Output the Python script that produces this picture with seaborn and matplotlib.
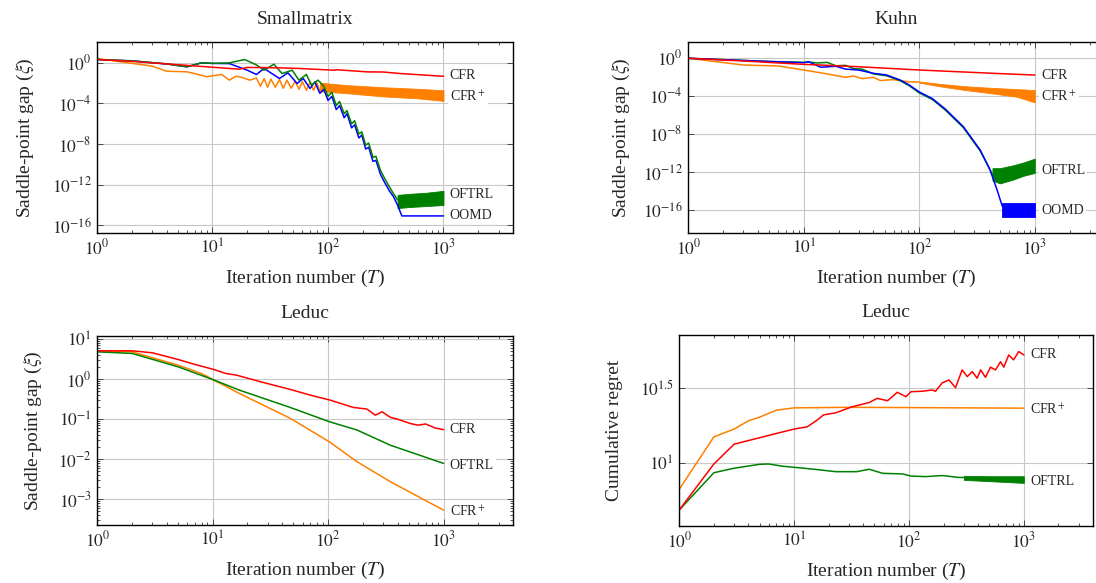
import numpy as np
import matplotlib
matplotlib.use('Agg')
import matplotlib.pyplot as plt
import matplotlib.ticker as mticker
import seaborn as sns

RED = '#ff0000'
ORANGE = '#ff8000'
GREEN = '#008000'
BLUE = '#0000ff'

# ---------------- Smallmatrix (saddle-point gap) ----------------
sm_cfr_T = [1, 2, 4, 8, 12, 17, 20, 25, 40, 57, 112, 120, 218, 300, 425, 1000]
sm_cfr = [2.14, 1.41, 0.79, 0.45, 0.32, 0.24, 0.355, 0.35, 0.32, 0.28, 0.19, 0.21, 0.13, 0.126, 0.089, 0.048]

sm_cfrp_T = [1, 3, 4, 6, 7, 9, 10, 12, 14, 16, 18, 21, 24, 26, 28, 30, 32, 35, 38, 41,
             44, 48, 52, 56, 60, 65, 70, 75, 80, 85]
sm_cfrp = [2.69, 0.479, 0.151, 0.132, 0.0891, 0.0427, 0.0537, 0.0724, 0.02, 0.049,
           0.0363, 0.02, 0.0316, 0.005, 0.0282, 0.004, 0.0251, 0.004, 0.0224, 0.00316,
           0.02, 0.00316, 0.0158, 0.00251, 0.0141, 0.002, 0.0126, 0.002, 0.0112, 0.00158]
sm_cfrp_band_T = [85, 150, 300, 600, 1000]
sm_cfrp_hi = [0.0112, 0.0063, 0.004, 0.0028, 0.002]
sm_cfrp_lo = [1.6e-3, 1.0e-3, 5.0e-4, 3.2e-4, 1.8e-4]

sm_oftrl_T = [1, 2, 4, 6, 8, 10, 14, 19, 24, 28, 34, 40, 49, 56, 65, 72, 82, 92, 100,
              108, 118, 126, 138, 146, 160, 170, 185, 196, 212, 225, 245, 260, 285,
              310, 340, 370, 400]
sm_oftrl = [2.14, 1.58, 0.79, 0.41, 1.0, 0.89, 1.0, 2.14, 0.63, 0.19, 0.74, 0.089,
            0.19, 0.02, 0.072, 0.0065, 0.02, 0.005, 5.0e-4, 1.26e-3, 6.3e-5, 1.6e-4,
            1.0e-5, 2.0e-5, 1.0e-6, 2.0e-6, 1.0e-7, 1.6e-7, 7.9e-9, 1.26e-8, 5.0e-10,
            6.3e-10, 2.5e-11, 4.0e-12, 6.3e-13, 1.26e-13, 3.2e-14]
sm_oftrl_band_T = [400, 500, 700, 1000]
sm_oftrl_hi = [1.0e-13, 1.26e-13, 1.6e-13, 2.5e-13]
sm_oftrl_lo = [5.0e-15, 6.3e-15, 7.9e-15, 1.0e-14]

sm_oomd_T = [1, 2, 4, 6, 8, 10, 14, 20, 24, 28, 38, 45, 54, 61, 70, 77, 85, 92, 100,
             108, 118, 126, 138, 146, 160, 170, 185, 196, 212, 225, 245, 260, 285,
             310, 340, 370, 400, 436, 1000]
sm_oomd = [2.14, 1.58, 0.79, 0.41, 1.0, 0.89, 0.85, 0.19, 0.072, 0.28, 0.029, 0.105,
           0.0093, 0.029, 0.003, 0.0135, 0.001, 0.0025, 2.0e-4, 5.0e-4, 2.5e-5, 6.3e-5,
           4.0e-6, 1.0e-5, 4.0e-7, 7.9e-7, 4.0e-8, 7.9e-8, 3.2e-9, 5.0e-9, 2.0e-10,
           2.5e-10, 1.0e-11, 1.6e-12, 2.5e-13, 6.3e-14, 1.0e-14, 8.5e-16, 8.5e-16]

sm_labels = ['CFR', 'CFR$^+$', 'OFTRL', 'OOMD']
sm_label_y = [0.06, 4.6e-4, 1.0e-13, 8.5e-16]

# ---------------- Kuhn (saddle-point gap) ----------------
ku_cfr_T = [1, 3, 10, 16, 30, 100, 200, 400, 1000]
ku_cfr = [0.87, 0.45, 0.2, 0.158, 0.112, 0.051, 0.035, 0.024, 0.015]

ku_cfrp_T = [1, 3, 6, 10, 16, 23, 27, 32, 40, 46, 59, 81, 100]
ku_cfrp = [0.87, 0.17, 0.135, 0.051, 0.0195, 0.0087, 0.012, 0.0063, 0.0087, 0.004,
           0.005, 0.0029, 0.0028]
ku_cfrp_band_T = [100, 150, 250, 400, 700, 1000]
ku_cfrp_hi = [3.2e-3, 1.8e-3, 1.0e-3, 7.1e-4, 5.0e-4, 4.0e-4]
ku_cfrp_lo = [2.4e-3, 1.0e-3, 4.0e-4, 2.0e-4, 7.9e-5, 2.0e-5]

ku_oftrl_T = [1, 5, 10, 11, 13, 16, 19, 23, 27, 32, 40, 52, 68, 82, 100, 130, 168,
              241, 337, 400, 430]
ku_oftrl = [0.87, 0.4, 0.32, 0.355, 0.28, 0.32, 0.141, 0.158, 0.071, 0.063, 0.02,
            0.0126, 0.004, 0.00112, 2.0e-4, 4.0e-5, 3.2e-6, 4.5e-8, 1.6e-10, 3.2e-12,
            5.0e-13]
ku_oftrl_band_T = [430, 500, 650, 800, 1000]
ku_oftrl_hi = [2.5e-12, 2.5e-12, 5.0e-12, 1.0e-11, 2.5e-11]
ku_oftrl_lo = [1.26e-13, 6.3e-14, 1.6e-13, 4.0e-13, 7.9e-13]

ku_oomd_T = [1, 5, 10, 11, 14, 19, 23, 30, 40, 52, 68, 82, 100, 130, 168, 241, 337,
             410, 472, 523]
ku_oomd = [0.87, 0.4, 0.3, 0.38, 0.1, 0.126, 0.063, 0.05, 0.023, 0.0155, 0.0046,
           0.00135, 2.5e-4, 5.0e-5, 4.0e-6, 5.6e-8, 2.0e-10, 1.6e-12, 1.26e-14, 2.5e-16]
ku_oomd_band_T = [523, 1000]
ku_oomd_hi = [5.0e-16, 5.0e-16]
ku_oomd_lo = [2.0e-17, 2.0e-17]

ku_labels = ['CFR', 'CFR$^+$', 'OFTRL', 'OOMD']
ku_label_y = [0.015, 7.9e-5, 1.6e-12, 1.0e-16]

# ---------------- Leduc (saddle-point gap) ----------------
le_cfr_T = [1, 2, 3, 5, 7, 10, 13, 16, 26, 47, 70, 104, 166, 217, 256, 293, 347, 400,
            516, 600, 700, 850, 1000]
le_cfr = [5.08, 5.08, 4.53, 3.09, 2.32, 1.77, 1.38, 1.26, 0.857, 0.552, 0.399, 0.299,
          0.196, 0.179, 0.126, 0.153, 0.111, 0.1, 0.078, 0.071, 0.076, 0.06, 0.055]
le_oftrl_T = [1, 2, 5, 10, 17, 47, 102, 178, 347, 1000]
le_oftrl = [4.79, 4.37, 2.03, 0.977, 0.532, 0.196, 0.087, 0.0537, 0.0224, 0.0079]
le_cfrp_T = [1, 2, 5, 8, 10, 17, 47, 102, 178, 347, 1000]
le_cfrp = [5.08, 4.79, 2.23, 1.38, 0.977, 0.44, 0.105, 0.0275, 0.0087, 0.00275, 0.00054]

le_labels = ['CFR', 'OFTRL', 'CFR$^+$']
le_label_y = [0.054, 0.0072, 4.9e-4]

# ---------------- Leduc (cumulative regret) ----------------
rg_cfr_T = [1, 2, 3, 7, 10, 13, 16, 18, 23, 32, 45, 53, 65, 79, 94, 104, 131, 159,
            170, 195, 223, 254, 290, 321, 355, 392, 420, 463, 512, 566, 626, 668, 738,
            813, 902, 1000]
rg_cfr = [4.89, 9.89, 13.4, 15.8, 16.9, 17.5, 19.5, 21.0, 21.7, 23.8, 25.4, 27.1,
          26.1, 29.7, 27.8, 30.0, 30.2, 30.8, 30.2, 34.4, 35.9, 31.9, 41.9, 37.8, 40.8,
          36.9, 41.9, 37.4, 43.7, 41.9, 47.5, 43.7, 52.7, 48.9, 55.5, 52.7]
rg_cfrp_T = [1, 2, 3, 4, 5, 7, 10, 30, 100, 300, 1000]
rg_cfrp = [6.71, 15.0, 16.9, 19.2, 20.3, 22.6, 23.4, 23.6, 23.5, 23.4, 23.3]
rg_oftrl_T = [1, 2, 3, 5, 6, 8, 10, 15, 23, 35, 45, 59, 88, 104, 140, 195, 272, 300]
rg_oftrl = [4.89, 8.65, 9.27, 9.84, 9.89, 9.55, 9.4, 9.12, 8.79, 8.79, 9.12, 8.57,
            8.49, 8.22, 8.15, 8.28, 8.05, 8.04]
rg_oftrl_band_T = [300, 500, 1000]
rg_oftrl_hi = [8.25, 8.2, 8.2]
rg_oftrl_lo = [7.75, 7.6, 7.4]

rg_labels = ['CFR', 'CFR$^+$', 'OFTRL']
rg_label_y = [52.7, 22.6, 7.53]


def draw_line(ax, T, vals, color):
    sns.lineplot(x=T, y=vals, ax=ax, color=color, lw=1.1, estimator=None,
                 sort=False, legend=False)


def draw_band(ax, T, lo, hi, color):
    ax.fill_between(T, lo, hi, color=color, lw=0.6, edgecolor=color)


def add_labels(ax, labels, ys):
    for lab, y in zip(labels, ys):
        ax.annotate(lab, xy=(1000, y), xytext=(4.5, 0), textcoords='offset points',
                    ha='left', va='center', fontsize=10, zorder=5,
                    bbox=dict(facecolor='white', edgecolor='none', pad=1.5))


def setup_axes(ax, ylim, yticks, ylabels, ylabel, title, yminor=False, ylabelpad=13):
    ax.set_xscale('log')
    ax.set_yscale('log')
    ax.set_xlim(1, 4000)
    ax.set_ylim(*ylim)
    ax.xaxis.set_major_locator(mticker.FixedLocator([1, 10, 100, 1000]))
    ax.xaxis.set_major_formatter(mticker.FixedFormatter(
        [r'$10^{0}$', r'$10^{1}$', r'$10^{2}$', r'$10^{3}$']))
    ax.xaxis.set_minor_locator(mticker.LogLocator(base=10, subs=np.arange(2, 10), numticks=20))
    ax.xaxis.set_minor_formatter(mticker.NullFormatter())
    ax.yaxis.set_major_locator(mticker.FixedLocator(yticks))
    ax.yaxis.set_major_formatter(mticker.FixedFormatter(ylabels))
    if yminor:
        ax.yaxis.set_minor_locator(mticker.LogLocator(base=10, subs=np.arange(2, 10), numticks=20))
    else:
        ax.yaxis.set_minor_locator(mticker.NullLocator())
    ax.yaxis.set_minor_formatter(mticker.NullFormatter())
    ax.tick_params(which='both', direction='in', top=True, right=True,
                   labelsize=12.5, width=0.6, color='#333333')
    ax.tick_params(which='major', length=4, pad=4)
    ax.tick_params(which='minor', length=2.3)
    ax.grid(True, which='major', color='#c8c8c8', lw=0.8)
    ax.grid(False, which='minor')
    ax.set_axisbelow(True)
    for s in ax.spines.values():
        s.set_linewidth(1.0)
        s.set_color('black')
    ax.set_xlabel('Iteration number ($T$)', fontsize=14, labelpad=7)
    ax.set_ylabel(ylabel, fontsize=14, labelpad=ylabelpad)
    ax.set_title(title, fontsize=14, pad=13)


def main():
    sns.set_style('ticks')
    plt.rcParams['font.family'] = ['Liberation Serif', 'DejaVu Serif']
    plt.rcParams['mathtext.fontset'] = 'stix'

    fig = plt.figure(figsize=(10.96, 5.83), dpi=100)
    ax_sm = fig.add_axes([0.0885, 0.6009, 0.3796, 0.3266])
    ax_ku = fig.add_axes([0.628, 0.6009, 0.3796, 0.3266])
    ax_le = fig.add_axes([0.0888, 0.0995, 0.3793, 0.3242])
    ax_rg = fig.add_axes([0.6198, 0.0978, 0.3775, 0.3276])

    gap_ticks = [1e0, 1e-4, 1e-8, 1e-12, 1e-16]
    gap_labels = [r'$10^{0}$', r'$10^{-4}$', r'$10^{-8}$', r'$10^{-12}$', r'$10^{-16}$']
    gap_name = r'Saddle-point gap ($\xi$)'

    # Smallmatrix
    draw_band(ax_sm, sm_cfrp_band_T, sm_cfrp_lo, sm_cfrp_hi, ORANGE)
    draw_line(ax_sm, sm_cfrp_T, sm_cfrp, ORANGE)
    draw_line(ax_sm, sm_oomd_T, sm_oomd, BLUE)
    draw_band(ax_sm, sm_oftrl_band_T, sm_oftrl_lo, sm_oftrl_hi, GREEN)
    draw_line(ax_sm, sm_oftrl_T, sm_oftrl, GREEN)
    draw_line(ax_sm, sm_cfr_T, sm_cfr, RED)
    setup_axes(ax_sm, (1.9e-17, 107), gap_ticks, gap_labels, gap_name, 'Smallmatrix',
               ylabelpad=11)
    add_labels(ax_sm, sm_labels, sm_label_y)

    # Kuhn
    draw_band(ax_ku, ku_cfrp_band_T, ku_cfrp_lo, ku_cfrp_hi, ORANGE)
    draw_line(ax_ku, ku_cfrp_T, ku_cfrp, ORANGE)
    draw_band(ax_ku, ku_oftrl_band_T, ku_oftrl_lo, ku_oftrl_hi, GREEN)
    draw_line(ax_ku, ku_oftrl_T, ku_oftrl, GREEN)
    draw_band(ax_ku, ku_oomd_band_T, ku_oomd_lo, ku_oomd_hi, BLUE)
    draw_line(ax_ku, ku_oomd_T, ku_oomd, BLUE)
    draw_line(ax_ku, ku_cfr_T, ku_cfr, RED)
    setup_axes(ax_ku, (4.2e-19, 41.7), gap_ticks, gap_labels, gap_name, 'Kuhn',
               ylabelpad=8)
    add_labels(ax_ku, ku_labels, ku_label_y)

    # Leduc gap
    draw_line(ax_le, le_cfrp_T, le_cfrp, ORANGE)
    draw_line(ax_le, le_oftrl_T, le_oftrl, GREEN)
    draw_line(ax_le, le_cfr_T, le_cfr, RED)
    setup_axes(ax_le, (2.3e-4, 11.9), [10, 1, 0.1, 0.01, 0.001],
               [r'$10^{1}$', r'$10^{0}$', r'$10^{-1}$', r'$10^{-2}$', r'$10^{-3}$'],
               gap_name, 'Leduc', yminor=True, ylabelpad=10)
    add_labels(ax_le, le_labels, le_label_y)

    # Leduc cumulative regret
    draw_line(ax_rg, rg_cfrp_T, rg_cfrp, ORANGE)
    draw_band(ax_rg, rg_oftrl_band_T, rg_oftrl_lo, rg_oftrl_hi, GREEN)
    draw_line(ax_rg, rg_oftrl_T, rg_oftrl, GREEN)
    draw_line(ax_rg, rg_cfr_T, rg_cfr, RED)
    setup_axes(ax_rg, (3.82, 71.6), [10, 10 ** 1.5], [r'$10^{1}$', r'$10^{1.5}$'],
               'Cumulative regret', 'Leduc', ylabelpad=12)
    add_labels(ax_rg, rg_labels, rg_label_y)

    fig.savefig('out.png', dpi=100)
    plt.close(fig)


if __name__ == "__main__":
    main()
